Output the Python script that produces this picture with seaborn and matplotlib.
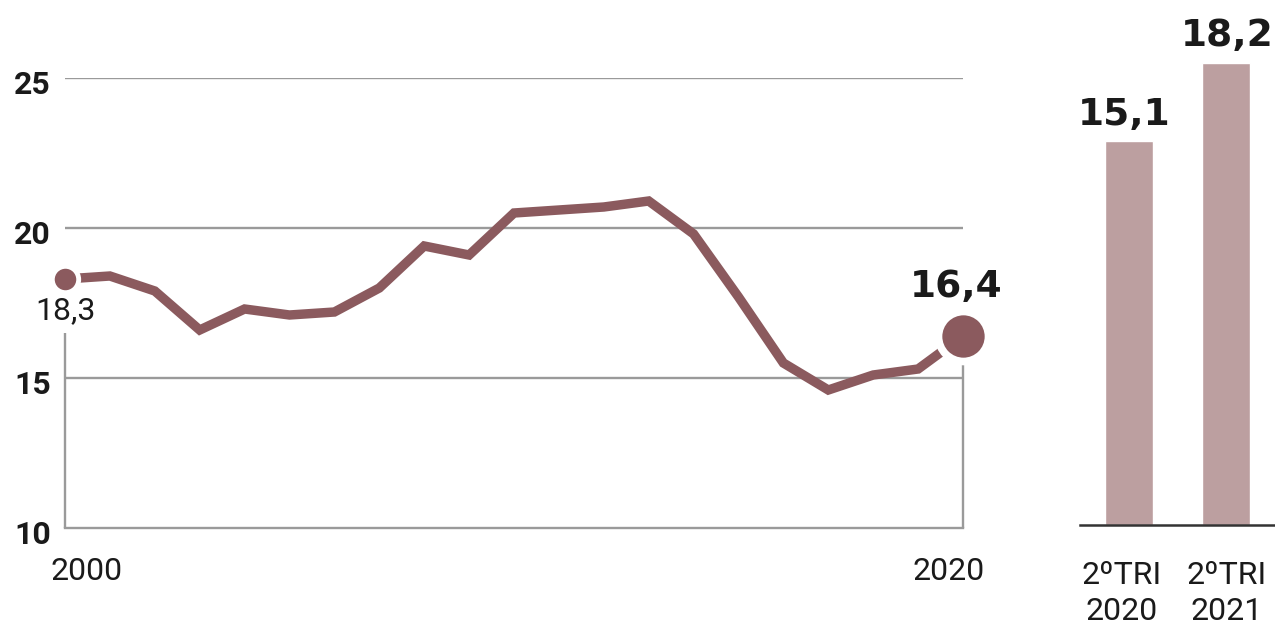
import matplotlib
matplotlib.use("Agg")
import matplotlib.pyplot as plt
from matplotlib.transforms import ScaledTranslation
import seaborn as sns
import pandas as pd

# ---- data ----
years = list(range(2000, 2021))
values = [18.3, 18.4, 17.9, 16.6, 17.3, 17.1, 17.2, 18.0, 19.4, 19.1, 20.5,
          20.6, 20.7, 20.9, 19.8, 17.7, 15.5, 14.6, 15.1, 15.3, 16.4]
y_ticks = [10, 15, 20, 25]
x_ticks = [2000, 2020]
bar_labels = ["2ºTRI\n2020", "2ºTRI\n2021"]
bar_values = [15.1, 18.2]

LINE_COLOR = "#8B5A5E"
BAR_COLOR = "#BC9FA0"
GRID_COLOR = "#9A9A9A"

sns.set_theme(style="white")
plt.rcParams['font.family'] = ['Roboto', 'DejaVu Sans']

fig = plt.figure(figsize=(12.75, 6.24), dpi=100)

# ---------------- line chart ----------------
ax = fig.add_axes([65 / 1275, 1 - 528 / 624, (963 - 65) / 1275, 450 / 624])
df = pd.DataFrame({"year": years, "value": values})
sns.lineplot(data=df, x="year", y="value", ax=ax, color=LINE_COLOR,
             linewidth=6.8, solid_capstyle="butt", solid_joinstyle="miter", zorder=3)
ax.set_xlim(2000, 2020)
ax.set_ylim(10, 25)
ax.set_xlabel("")
ax.set_ylabel("")

for t in y_ticks[1:]:
    ax.axhline(t, color=GRID_COLOR, linewidth=1.7, zorder=1)
for s in ["top", "right", "left"]:
    ax.spines[s].set_visible(False)
ax.spines["bottom"].set_color(GRID_COLOR)
ax.spines["bottom"].set_linewidth(1.7)

# leader lines from labels down to the baseline
ax.vlines(years[0], 10, 16.5, color=GRID_COLOR, linewidth=1.7, zorder=1, clip_on=False)
ax.vlines(years[-1], 10, 15.45, color=GRID_COLOR, linewidth=1.7, zorder=1, clip_on=False)

# end markers
ax.plot([years[0]], [values[0]], marker="o", markersize=19, markerfacecolor=LINE_COLOR,
        markeredgecolor="white", markeredgewidth=3.5, zorder=4, clip_on=False)
ax.plot([years[-1]], [values[-1]], marker="o", markersize=36, markerfacecolor=LINE_COLOR,
        markeredgecolor="white", markeredgewidth=5.5, zorder=4, clip_on=False)

def fmt(v):
    return f"{v:.1f}".replace(".", ",")

ax.annotate(fmt(values[0]), (years[0], values[0]), xytext=(0, -12),
            textcoords="offset points", ha="center", va="top",
            fontsize=23, color="#1a1a1a", family="Roboto")
ax.annotate(fmt(values[-1]), (years[-1], values[-1]), xytext=(-5, 22),
            textcoords="offset points", ha="center", va="bottom",
            fontsize=27, fontweight="bold", color="#1a1a1a", family="DejaVu Sans")

ax.set_yticks(y_ticks)
ax.set_yticklabels([str(t) for t in y_ticks], fontsize=23, fontweight="bold", color="#1a1a1a")
ax.set_xticks(x_ticks)
ax.set_xticklabels([str(t) for t in x_ticks], fontsize=23, color="#1a1a1a")
ax.tick_params(axis="y", length=0, pad=10)
ax.tick_params(axis="x", length=0, pad=21)
for lab in ax.get_yticklabels():
    lab.set_transform(lab.get_transform() + ScaledTranslation(0, -0.04, fig.dpi_scale_trans))
xl = ax.get_xticklabels()
xl[0].set_transform(xl[0].get_transform() + ScaledTranslation(0.22, 0, fig.dpi_scale_trans))
xl[1].set_transform(xl[1].get_transform() + ScaledTranslation(-0.14, 0, fig.dpi_scale_trans))

# ---------------- bar chart ----------------
bx = fig.add_axes([1080 / 1275, 1 - 525 / 624, 195 / 1275, 508 / 624])
bdf = pd.DataFrame({"periodo": bar_labels, "valor": bar_values})
sns.barplot(data=bdf, x="periodo", y="valor", ax=bx, color=BAR_COLOR,
            width=0.49, saturation=1, zorder=2)
bx.set_xlim(-0.5, 1.5)
bx.set_ylim(0, 20)
bx.set_xlabel("")
bx.set_ylabel("")
bx.set_yticks([])
for s in ["top", "right", "left"]:
    bx.spines[s].set_visible(False)
bx.spines["bottom"].set_color("#333333")
bx.spines["bottom"].set_linewidth(1.8)
bx.tick_params(axis="x", length=0, pad=26, labelsize=23, labelcolor="#1a1a1a")
for lab in bx.get_xticklabels():
    lab.set_linespacing(1.3)
bxl = bx.get_xticklabels()
bxl[0].set_transform(bxl[0].get_transform() + ScaledTranslation(-0.07, 0, fig.dpi_scale_trans))
for i, v in enumerate(bar_values):
    bx.annotate(fmt(v), (i, v), xytext=(-3 if i == 0 else 1, 6), textcoords="offset points",
                ha="center", va="bottom", fontsize=27, fontweight="bold",
                color="#1a1a1a", family="DejaVu Sans")

fig.savefig("out.png", dpi=100)
